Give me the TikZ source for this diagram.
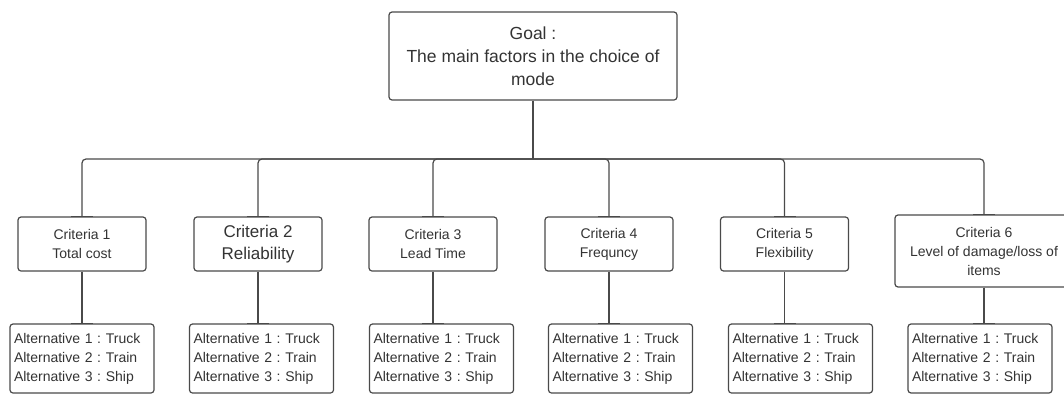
\documentclass[tikz,border=0pt]{standalone}
\usepackage{fontspec}
\setmainfont{Liberation Sans}
\usetikzlibrary{arrows.meta}
\frenchspacing

\definecolor{linegray}{HTML}{4A4A4A}
\definecolor{textgray}{HTML}{333333}

\tikzset{
  box/.style={draw=linegray, line width=1.2pt, rounded corners=3pt, text=textgray,
    align=center, inner sep=0pt, font=\fontsize{14}{19}\selectfont},
  goalbox/.style={box, minimum width=288pt, minimum height=88pt, font=\fontsize{17.5}{23}\selectfont},
  critbox/.style={box, minimum width=128pt, minimum height=54pt},
  altbox/.style={box, minimum width=144pt, minimum height=69pt, text width=136pt,
    inner xsep=4pt, align=left},
  link/.style={draw=linegray, line width=1.2pt},
  tick/.style={link, -{Bar[width=22pt, line width=1.6pt]}, shorten >=-0.9pt},
}

\begin{document}
\begin{tikzpicture}[x=1pt, y=-1pt]
    \useasboundingbox (0, 0) rectangle (1064, 394);

    % Goal
    \node[goalbox] at (533, 56) (goal) {Goal :\\The main factors in the choice of\\mode};

    % Criteria
    \node[critbox] at (82, 244) (c1) {Criteria 1\\Total cost};
    \node[critbox, font=\fontsize{17}{22}\selectfont] at (258, 244) (c2) {Criteria 2\\Reliability};
    \node[critbox] at (433, 244) (c3) {Criteria 3\\Lead Time};
    \node[critbox] at (609, 244) (c4) {Criteria 4\\Frequncy};
    \node[critbox] at (784.5, 244) (c5) {Criteria 5\\Flexibility};
    \node[critbox, minimum width=178pt, minimum height=72pt] at (984, 251) (c6) {Criteria 6\\Level of damage/loss of\\items};

    % Alternatives
    \node[altbox] at (82, 358.5) (a1) {Alternative 1 : Truck\\Alternative 2 : Train\\Alternative 3 : Ship};
    \node[altbox] at (261.5, 358.5) (a2) {Alternative 1 : Truck\\Alternative 2 : Train\\Alternative 3 : Ship};
    \node[altbox] at (441.5, 358.5) (a3) {Alternative 1 : Truck\\Alternative 2 : Train\\Alternative 3 : Ship};
    \node[altbox] at (620.5, 358.5) (a4) {Alternative 1 : Truck\\Alternative 2 : Train\\Alternative 3 : Ship};
    \node[altbox] at (800.5, 358.5) (a5) {Alternative 1 : Truck\\Alternative 2 : Train\\Alternative 3 : Ship};
    \node[altbox] at (980, 358.5) (a6) {Alternative 1 : Truck\\Alternative 2 : Train\\Alternative 3 : Ship};

    % Connectors
    \coordinate (bus) at (533, 159);
    \draw[link] (goal) -- (bus);
    \foreach \c in {c1, c2, c3, c4, c5, c6}
      \draw[tick, rounded corners=4pt] (bus) -| (\c.north);

    \foreach \c/\a in {c1/a1, c2/a2, c3/a3, c4/a4, c5/a5, c6/a6}
      \draw[tick] (\c) -- (\c |- \a.north);

  \end{tikzpicture}
\end{document}
